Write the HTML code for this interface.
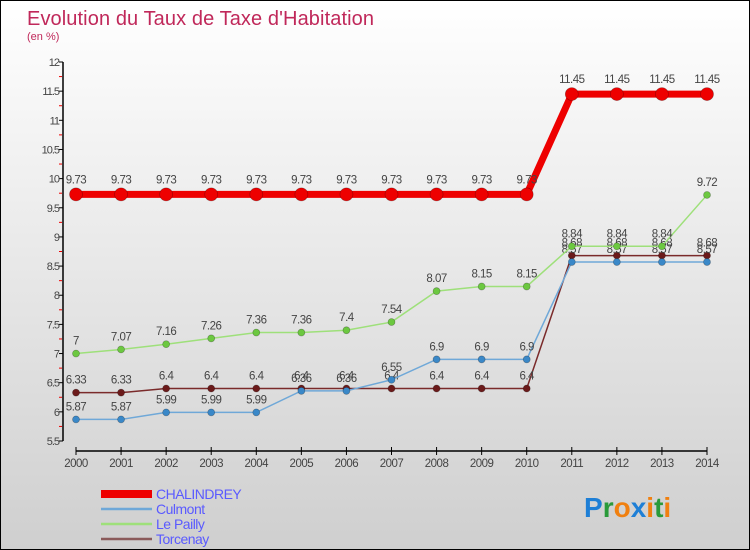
<!DOCTYPE html>
<html><head><meta charset="utf-8"><style>
body{margin:0;}
#wrap{width:750px;height:550px;position:relative;overflow:hidden;box-sizing:border-box;border:1px solid #000;background:linear-gradient(#ffffff,#cfcfcf);font-family:"Liberation Sans",sans-serif;}
svg{position:absolute;left:0;top:0;}
</style></head><body>
<div id="wrap">
<svg id="chart" width="750" height="550">
<text x="26" y="24" font-size="20" fill="#c0285a" textLength="347">Evolution du Taux de Taxe d'Habitation</text>
<text x="26" y="39" font-size="11" fill="#c0285a">(en %)</text>
<g id="axes"></g><g id="series"></g><g id="legend"></g>
<text x="583" y="516" font-size="28" font-weight="bold"><tspan fill="#1e7fd6">P</tspan><tspan fill="#2a9a3a">r</tspan><tspan fill="#f08010">o</tspan><tspan fill="#1e7fd6">x</tspan><tspan fill="#f08010">i</tspan><tspan fill="#2a9a3a">t</tspan><tspan fill="#f08010">i</tspan></text>
</svg>
</div>
<script>
const years=[2000,2001,2002,2003,2004,2005,2006,2007,2008,2009,2010,2011,2012,2013,2014];
const yTicks=[5.5,6,6.5,7,7.5,8,8.5,9,9.5,10,10.5,11,11.5,12];
const chalindrey=[9.73,9.73,9.73,9.73,9.73,9.73,9.73,9.73,9.73,9.73,9.73,11.45,11.45,11.45,11.45];
const culmont=[5.87,5.87,5.99,5.99,5.99,6.36,6.36,6.55,6.9,6.9,6.9,8.57,8.57,8.57,8.57];
const lePailly=[7,7.07,7.16,7.26,7.36,7.36,7.4,7.54,8.07,8.15,8.15,8.84,8.84,8.84,9.72];
const torcenay=[6.33,6.33,6.4,6.4,6.4,6.4,6.4,6.4,6.4,6.4,6.4,8.68,8.68,8.68,8.68];
const seriesNames=["CHALINDREY","Culmont","Le Pailly","Torcenay"];
const NS="http://www.w3.org/2000/svg";
const X=i=>75+i*(706-75)/(years.length-1);
const Y=v=>61+(12-v)*(440-61)/6.5;
function mk(tag,attrs,parent){const e=document.createElementNS(NS,tag);for(const k in attrs)e.setAttribute(k,attrs[k]);parent.appendChild(e);return e;}
const ax=document.getElementById('axes');
let a=mk('line',{x1:62,y1:Y(12),x2:62,y2:Y(5.5),stroke:'#000','stroke-width':1.5},ax);


yTicks.forEach(t=>{
  mk('line',{x1:58,x2:62,y1:Y(t),y2:Y(t),stroke:'#000'},ax);
  if(t<12)mk('line',{x1:58,x2:61,y1:Y(t+0.25),y2:Y(t+0.25),stroke:'#e00'},ax);
  const tx=mk('text',{x:58,y:Y(t)+4,'font-size':11,'text-anchor':'end',fill:'#444','letter-spacing':'-1'},ax);
  tx.textContent=t;
  
  
});
a=mk('line',{x1:75,y1:450,x2:706,y2:450,stroke:'#000','stroke-width':1.5},ax);


years.forEach((yr,i)=>{
  mk('line',{x1:X(i),x2:X(i),y1:446,y2:454,stroke:'#000'},ax);
  const tx=mk('text',{x:X(i),y:466,'font-size':11.5,'text-anchor':'middle',fill:'#444','letter-spacing':'-0.5'},ax);
  tx.textContent=yr;
  
  
});
const sg=document.getElementById('series');
const defs=[[torcenay,'#7a2a2a','#6b1a1a',1.5,3.5,'torcenay'],[culmont,'#6fa8d8','#3a88c8',1.5,3.5,'culmont'],[lePailly,'#9ee07a','#6cc840',1.5,3.5,'le-pailly'],[chalindrey,'#ee0000','#ee0000',7,6.5,'chalindrey']];
defs.forEach(([vals,lc,pc,w,r,nm])=>{
  const g=mk('g',{},sg);
  
  
  const l=mk('polyline',{points:vals.map((v,i)=>X(i)+','+Y(v)).join(' '),fill:'none',stroke:lc,'stroke-width':w},g);
  
  
  vals.forEach((v,i)=>{
    const c=mk('circle',{cx:X(i),cy:Y(v),r:r,fill:pc,stroke:'rgba(0,0,0,0.3)','stroke-width':0.7},g);
    
    
    const t=mk('text',{x:X(i),y:Y(v)-(r>5?11:9),'font-size':11.5,'text-anchor':'middle',fill:'#444','letter-spacing':'-0.5'},g);
    t.textContent=v;
    
    
  });
});
const lg=document.getElementById('legend');
const lcols=['#ee0000','#6fa8d8','#9ee07a','#8a5a5a'];const lw=[8,2.5,2.5,2.5];
seriesNames.forEach((n,i)=>{
  const y=493+i*15;
  const g=mk('g',{},lg);
  
  
  mk('line',{x1:100,x2:151,y1:y,y2:y,stroke:lcols[i],'stroke-width':lw[i]},g);
  const t=mk('text',{x:155,y:y+5,'font-size':14,fill:'#5a5aff','letter-spacing':'-0.5'},g);
  t.textContent=n;
});
</script>
</body></html>
